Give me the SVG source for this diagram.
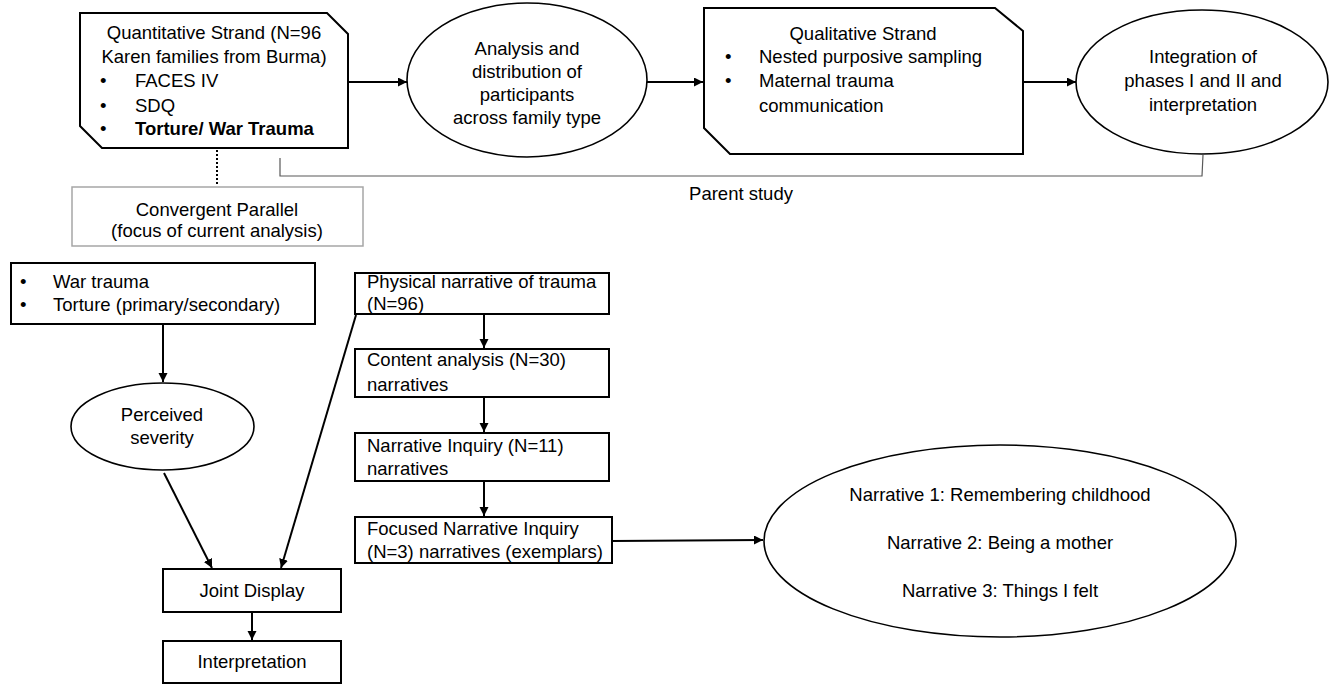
<svg xmlns="http://www.w3.org/2000/svg" width="1339" height="686" viewBox="0 0 1339 686">
<style>
  text { font-family: "Liberation Sans", Arial, sans-serif; font-size: 18.5px; fill: #000; }
  .c { text-anchor: middle; }
  .b { font-weight: bold; }
  .box { fill: #fff; stroke: #000; stroke-width: 2; }
  .ell { fill: #fff; stroke: #000; stroke-width: 1.6; }
  .gbox { fill: #fff; stroke: #a6a6a6; stroke-width: 1.5; }
  .arr { fill: none; stroke: #000; stroke-width: 2; marker-end: url(#ah); }
  .brk { fill: none; stroke: #595959; stroke-width: 1.2; }
  .dot { fill: none; stroke: #000; stroke-width: 2; stroke-dasharray: 2 2; }
</style>
<defs>
  <marker id="ah" markerUnits="userSpaceOnUse" markerWidth="10" markerHeight="10" refX="9" refY="4.5" orient="auto">
    <path d="M0,0 L9,4.5 L0,9 z" fill="#000"/>
  </marker>
</defs>
<rect width="1339" height="686" fill="#fff"/>

<g id="connectors">
  <line class="arr" x1="348" y1="82" x2="407" y2="82"/>
  <line class="arr" x1="647" y1="82" x2="703" y2="82"/>
  <line class="arr" x1="1023" y1="82" x2="1076" y2="82"/>
  <path class="brk" d="M280,158 L280,176 L1202,176 L1203,155"/>
  <line class="dot" x1="217" y1="150" x2="217" y2="186"/>
  <line class="arr" x1="163" y1="324" x2="163" y2="382"/>
  <line class="arr" x1="164" y1="473" x2="212" y2="568"/>
  <line class="arr" x1="356" y1="315" x2="281" y2="568"/>
  <line class="arr" x1="252" y1="612" x2="252" y2="640"/>
  <line class="arr" x1="484" y1="314" x2="484" y2="348"/>
  <line class="arr" x1="484" y1="397" x2="484" y2="432"/>
  <line class="arr" x1="484" y1="481" x2="484" y2="516"/>
  <line class="arr" x1="612" y1="541" x2="763" y2="540"/>
</g>

<g id="quantitative">
  <polygon class="box" points="80,13 327,13 348,34 348,148 102,148 80,126"/>
  <text class="c" x="214" y="39">Quantitative Strand (N=96</text>
  <text class="c" x="214" y="63">Karen families from Burma)</text>
  <text x="100" y="87">•</text><text x="135" y="87">FACES IV</text>
  <text x="100" y="112">•</text><text x="135" y="112">SDQ</text>
  <text x="100" y="135">•</text><text class="b" x="135" y="135">Torture/ War Trauma</text>
</g>

<g id="analysis">
  <ellipse class="ell" cx="527" cy="80" rx="120" ry="77"/>
  <text class="c" x="527" y="55">Analysis and</text>
  <text class="c" x="527" y="78">distribution of</text>
  <text class="c" x="527" y="101">participants</text>
  <text class="c" x="527" y="124">across family type</text>
</g>

<g id="qualitative">
  <polygon class="box" points="704,8 995,8 1023,31 1023,154 730,154 704,128"/>
  <text class="c" x="863" y="40">Qualitative Strand</text>
  <text x="725" y="63">•</text><text x="759" y="63">Nested purposive sampling</text>
  <text x="725" y="87">•</text><text x="759" y="87">Maternal trauma</text>
  <text x="759" y="112">communication</text>
</g>

<g id="integration">
  <ellipse class="ell" cx="1202" cy="82" rx="126" ry="72"/>
  <text class="c" x="1203" y="63">Integration of</text>
  <text class="c" x="1203" y="87">phases I and II and</text>
  <text class="c" x="1203" y="111">interpretation</text>
</g>

<g id="parent-study">
  <text class="c" x="741" y="200">Parent study</text>
</g>

<g id="convergent">
  <rect class="gbox" x="72" y="187" width="291" height="59"/>
  <text class="c" x="217" y="216">Convergent Parallel</text>
  <text class="c" x="217" y="237">(focus of current analysis)</text>
</g>

<g id="war-trauma">
  <rect class="box" x="11" y="263" width="304" height="61"/>
  <text x="20" y="288">•</text><text x="53" y="288">War trauma</text>
  <text x="20" y="311">•</text><text x="53" y="311">Torture (primary/secondary)</text>
</g>

<g id="perceived">
  <ellipse class="ell" cx="162.5" cy="426.5" rx="91.5" ry="43.5"/>
  <text class="c" x="162" y="421">Perceived</text>
  <text class="c" x="162" y="444">severity</text>
</g>

<g id="joint-display">
  <rect class="box" x="163" y="569" width="178" height="43"/>
  <text class="c" x="252" y="597">Joint Display</text>
</g>

<g id="interpretation">
  <rect class="box" x="163" y="641" width="178" height="42"/>
  <text class="c" x="252" y="668">Interpretation</text>
</g>

<g id="physical">
  <rect class="box" x="355" y="273" width="254" height="41"/>
  <text x="367" y="288">Physical narrative of trauma</text>
  <text x="367" y="310">(N=96)</text>
</g>

<g id="content">
  <rect class="box" x="355" y="349" width="254" height="48"/>
  <text x="367" y="366">Content analysis (N=30)</text>
  <text x="367" y="391">narratives</text>
</g>

<g id="inquiry">
  <rect class="box" x="355" y="433" width="254" height="48"/>
  <text x="367" y="452">Narrative Inquiry (N=11)</text>
  <text x="367" y="475">narratives</text>
</g>

<g id="focused">
  <rect class="box" x="355" y="517" width="257" height="46"/>
  <text x="367" y="535">Focused Narrative Inquiry</text>
  <text x="367" y="558">(N=3) narratives (exemplars)</text>
</g>

<g id="narratives">
  <ellipse class="ell" cx="1000" cy="541" rx="236" ry="96"/>
  <text class="c" x="1000" y="501">Narrative 1: Remembering childhood</text>
  <text class="c" x="1000" y="549">Narrative 2: Being a mother</text>
  <text class="c" x="1000" y="597">Narrative 3: Things I felt</text>
</g>
</svg>
